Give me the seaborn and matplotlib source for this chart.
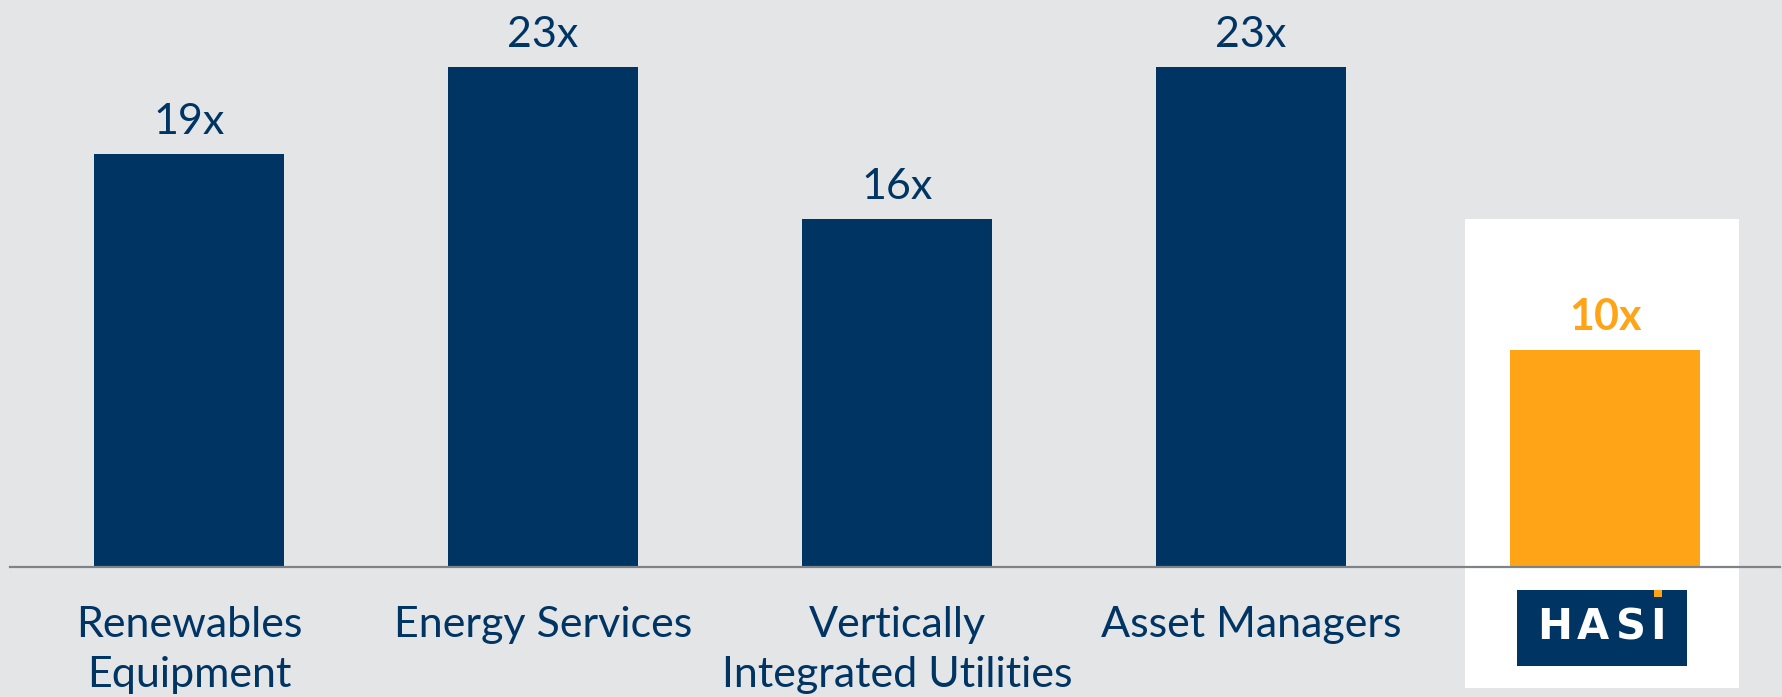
import matplotlib
matplotlib.use("Agg")
import pandas as pd
import seaborn as sns
import matplotlib.pyplot as plt
from matplotlib.patches import Rectangle

# Chart data
categories = ["Renewables\nEquipment", "Energy Services", "Vertically\nIntegrated Utilities",
              "Asset Managers", "HASI"]
multiples = [19, 23, 16, 23, 10]
value_labels = ["19x", "23x", "16x", "23x", "10x"]

NAVY = "#003463"
ORANGE = "#FFA416"
BG = "#E4E5E7"

sns.set_theme(style="white")
plt.rcParams["font.family"] = ["Lato", "DejaVu Sans"]

df = pd.DataFrame({"category": categories, "multiple": multiples})
colors = [NAVY, NAVY, NAVY, NAVY, ORANGE]

fig = plt.figure(figsize=(17.83, 6.97), dpi=100)
fig.patch.set_facecolor(BG)
ax = fig.add_axes([10 / 1783, 0.1865, 1770 / 1783, 0.8135])
ax.set_facecolor("none")

# white highlight panel behind HASI bar
ax.add_patch(Rectangle((4 - 0.397, -5.58), 0.776, 21.62, facecolor="white",
                       edgecolor="none", clip_on=False, zorder=0))

sns.barplot(data=df, x="category", y="multiple", hue="category", palette=colors,
            legend=False, width=0.537, saturation=1, linewidth=0, edgecolor="none",
            ax=ax, zorder=2)

ax.set_xlim(-0.506, 4.494)
ax.set_ylim(0, 26.1)

for i, (v, lab) in enumerate(zip(multiples, value_labels)):
    hasi = i == len(multiples) - 1
    ax.annotate(lab, (i, v), xytext=(0, 14.4), textcoords="offset points",
                ha="center", va="baseline", fontsize=31,
                color=ORANGE if hasi else NAVY,
                fontweight="bold" if hasi else "normal")

ax.set_xticks(range(len(categories)))
ax.set_xticklabels(categories[:-1] + [""], fontsize=31, color=NAVY, linespacing=1.38)
ax.tick_params(axis="x", length=0, pad=28)
ax.set_xlabel("")
ax.set_ylabel("")
ax.set_yticks([])

for s in ["top", "left", "right"]:
    ax.spines[s].set_visible(False)
ax.spines["bottom"].set_color("#7F8387")
ax.spines["bottom"].set_linewidth(1.6)
ax.spines["bottom"].set_zorder(3)

# HASI logo in place of the last tick label
ax.add_patch(Rectangle((4 - 0.25, -4.56), 0.48, 3.5, facecolor=NAVY,
                       edgecolor="none", clip_on=False, zorder=3))
ax.add_patch(Rectangle((4 + 0.137, -1.39), 0.023, 0.33, facecolor=ORANGE,
                       edgecolor="none", clip_on=False, zorder=4))
for dx, letter in zip([-0.142, -0.035, 0.072, 0.149], "HASI"):
    ax.text(4 + dx, -2.77, letter, ha="center", va="center", fontsize=30,
            fontweight="bold", color="white", clip_on=False, zorder=4,
            family=["DejaVu Sans"])

fig.savefig("out.png", dpi=100, facecolor=BG)
